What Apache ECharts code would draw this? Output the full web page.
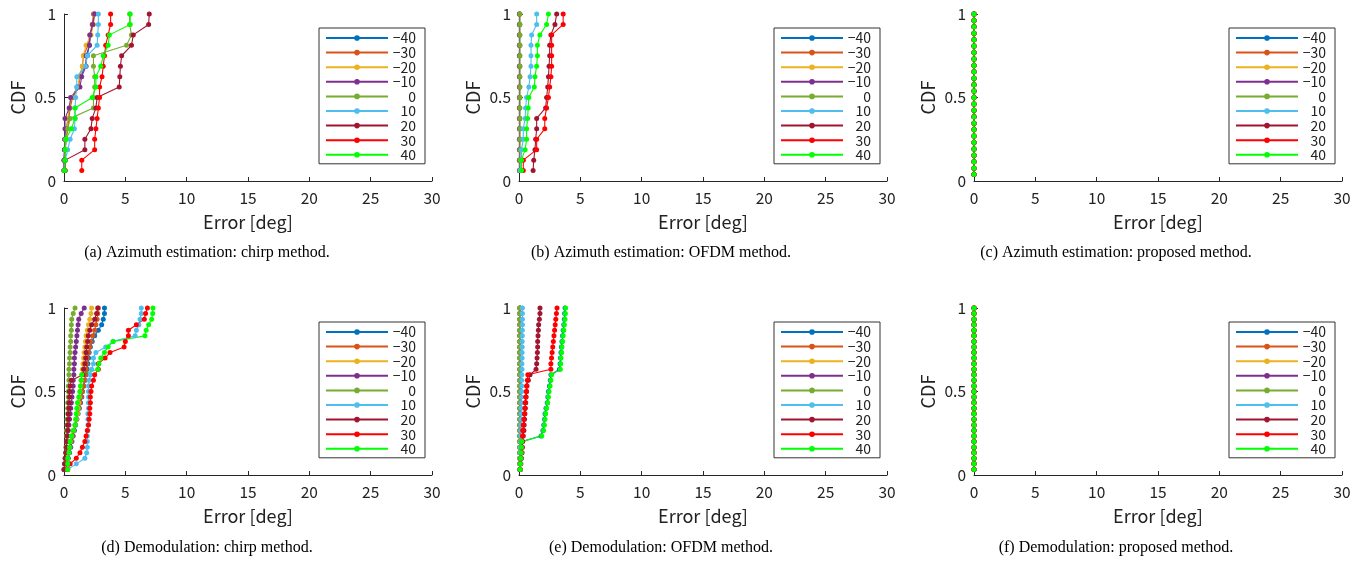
<!DOCTYPE html>
<html>
<head>
<meta charset="utf-8">
<script src="https://cdn.jsdelivr.net/npm/echarts@6/dist/echarts.min.js"></script>
<style>
html,body{margin:0;padding:0;background:#fff;}
#chart{width:1363px;height:563px;}
</style>
</head>
<body>
<div id="chart"></div>
<script>
// ---------------- DATA ----------------
const seriesNames = ['\u221240', '\u221230', '\u221220', '\u221210', '0', '10', '20', '30', '40'];
const seriesColors = ['#0072BD', '#D95319', '#EDB120', '#7E2F8E', '#77AC30', '#4DBEEE', '#A2142F', '#FF0000', '#00FF00'];
const panelCaptions = [
  '(a) Azimuth estimation: chirp method.',
  '(b) Azimuth estimation: OFDM method.',
  '(c) Azimuth estimation: proposed method.',
  '(d) Demodulation: chirp method.',
  '(e) Demodulation: OFDM method.',
  '(f) Demodulation: proposed method.'
];
const xTickValues = [0, 5, 10, 15, 20, 25, 30];
const yTickValues = [0, 0.5, 1];

// CDF levels
const levels16 = [0.0625,0.125,0.1875,0.25,0.3125,0.375,0.4375,0.5,0.5625,0.625,0.6875,0.75,0.8125,0.875,0.9375,1];
const levels26 = [0.0385,0.0769,0.1154,0.1538,0.1923,0.2308,0.2692,0.3077,0.3462,0.3846,0.4231,0.4615,0.5,0.5385,0.5769,0.6154,0.6538,0.6923,0.7308,0.7692,0.8077,0.8462,0.8846,0.9231,0.9615,1];
const levels30 = [0.0333,0.0667,0.1,0.1333,0.1667,0.2,0.2333,0.2667,0.3,0.3333,0.3667,0.4,0.4333,0.4667,0.5,0.5333,0.5667,0.6,0.6333,0.6667,0.7,0.7333,0.7667,0.8,0.8333,0.8667,0.9,0.9333,0.9667,1];

// (a) Azimuth estimation: chirp method [deg]
const azChirpM40 = [0,0,0.05,0.08,0.16,0.35,0.43,0.63,1.09,1.36,1.71,1.9,2.07,2.17,2.34,2.47];
const azChirpM30 = [0,0.05,0.1,0.2,0.3,0.4,0.5,0.7,1.2,1.3,1.5,1.6,1.95,2.1,2.3,2.4];
const azChirpM20 = [0,0.05,0.1,0.15,0.2,0.3,0.45,0.6,1.15,1.25,1.5,1.58,1.8,2.2,2.4,2.5];
const azChirpM10 = [0,0,0.03,0.05,0.08,0.08,0.43,0.54,1.3,1.44,1.8,1.8,2.07,2.12,2.35,2.5];
const azChirpP0  = [0,0.05,0.1,0.1,0.3,0.5,2.4,2.4,2.5,2.5,2.4,2.4,5.1,5.5,5.35,5.35];
const azChirpP10 = [0.05,0.1,0.3,0.5,0.85,0.9,0.9,0.95,1.03,1.05,1.75,1.9,2.7,2.75,2.8,2.8];
const azChirpP20 = [0.1,0.1,1.7,1.7,2.2,2.3,2.6,2.7,4.5,4.55,4.6,4.7,5.5,5.65,6.9,6.95];
const azChirpP30 = [1.45,1.45,2.5,2.5,2.6,2.7,2.8,2.9,2.9,3.1,3.2,3.3,3.4,3.6,3.8,3.8];
const azChirpP40 = [0.05,0.1,0.1,0.15,0.6,0.9,0.9,2.3,2.6,2.6,3.0,3.2,3.6,3.7,5.4,5.4];

// (b) Azimuth estimation: OFDM method [deg]
const azOfdmM40 = [0.03,0.03,0.03,0.03,0.03,0.03,0.03,0.03,0.03,0.03,0.03,0.03,0.03,0.03,0.03,0.03];
const azOfdmM30 = [0.04,0.04,0.04,0.04,0.04,0.04,0.04,0.04,0.04,0.04,0.04,0.04,0.04,0.04,0.04,0.04];
const azOfdmM20 = [0.05,0.05,0.05,0.05,0.05,0.05,0.05,0.05,0.05,0.05,0.05,0.05,0.05,0.05,0.05,0.05];
const azOfdmM10 = [0.05,0.05,0.05,0.05,0.05,0.05,0.05,0.05,0.05,0.05,0.05,0.05,0.05,0.05,0.05,0.05];
const azOfdmP0  = [0.08,0.08,0.08,0.08,0.08,0.08,0.08,0.08,0.08,0.08,0.08,0.08,0.08,0.08,0.08,0.08];
const azOfdmP10 = [0.1,0.2,0.2,0.35,0.35,0.5,0.54,0.62,0.8,0.9,0.98,0.98,0.98,1.03,1.44,1.44];
const azOfdmP20 = [1.15,1.2,1.3,1.36,1.44,1.44,2.17,2.25,2.34,2.4,2.45,2.5,2.5,2.6,2.93,3.07];
const azOfdmP30 = [0.35,0.35,1.44,1.44,2.1,2.1,2.25,2.4,2.5,2.6,2.66,2.66,2.66,2.66,3.6,3.6];
const azOfdmP40 = [0.2,0.2,0.5,0.62,0.62,0.7,0.75,0.8,1.25,1.3,1.44,1.5,1.5,1.7,2.25,2.4];

// (c) Azimuth estimation: proposed method [deg] (all angles)
const azPropErr = [0,0,0,0,0,0,0,0,0,0,0,0,0,0,0,0,0,0,0,0,0,0,0,0,0,0];

// (d) Demodulation: chirp method [deg]
const dmChirpM40 = [0.15,0.25,0.35,0.45,0.55,0.65,0.75,0.85,0.95,1.05,1.15,1.25,1.35,1.45,1.5,1.6,1.7,1.8,1.9,1.95,2.0,2.05,2.15,2.3,2.5,2.8,3.07,3.2,3.3,3.3];
const dmChirpM30 = [0.1,0.2,0.3,0.4,0.5,0.6,0.7,0.8,0.9,1.0,1.1,1.2,1.3,1.4,1.5,1.6,1.7,1.75,1.8,1.85,1.9,2.0,2.1,2.2,2.35,2.5,2.6,2.7,2.75,2.8];
const dmChirpM20 = [0.1,0.15,0.2,0.3,0.4,0.5,0.6,0.75,0.9,1.0,1.1,1.15,1.2,1.25,1.3,1.35,1.4,1.45,1.5,1.55,1.6,1.65,1.7,1.75,1.8,1.9,2.0,2.1,2.2,2.25];
const dmChirpM10 = [0.0,0.05,0.1,0.15,0.2,0.25,0.3,0.35,0.4,0.45,0.5,0.55,0.6,0.65,0.7,0.75,0.75,0.8,0.8,0.85,0.85,0.9,0.95,1.0,1.05,1.1,1.15,1.2,1.4,1.65];
const dmChirpP0  = [0.05,0.1,0.1,0.15,0.15,0.2,0.2,0.2,0.25,0.25,0.3,0.3,0.3,0.35,0.35,0.35,0.4,0.4,0.4,0.45,0.45,0.5,0.5,0.55,0.55,0.6,0.6,0.63,0.75,0.9];
const dmChirpP10 = [0.3,1.0,1.7,1.85,1.9,1.9,1.9,1.95,1.95,1.95,1.95,2.0,2.0,2.0,2.0,2.0,2.05,2.15,2.25,2.4,2.4,2.6,3.4,4.0,5.8,5.9,6.1,6.2,6.3,6.3];
const dmChirpP20 = [0.0,0.05,0.1,0.15,0.2,0.2,0.25,0.3,0.3,0.35,0.35,0.4,0.4,0.45,0.45,0.5,0.6,1.55,1.6,1.7,1.77,1.8,1.85,1.93,1.98,2.1,2.25,2.5,2.66,2.75];
const dmChirpP30 = [0.3,0.5,1.0,1.3,1.5,1.7,1.8,1.9,2.0,2.05,2.1,2.1,2.15,2.15,2.2,2.25,2.4,2.5,2.8,2.8,3.35,3.75,4.9,5.0,5.25,5.25,5.9,6.55,6.65,6.8];
const dmChirpP40 = [0.3,0.3,0.3,0.4,0.45,0.5,0.6,0.75,0.9,0.95,1.0,1.05,1.1,1.2,1.3,1.35,1.4,1.45,2.75,2.85,3.0,3.3,3.6,4.0,6.6,6.7,6.9,7.15,7.23,7.25];

// (e) Demodulation: OFDM method [deg]
const dmOfdmM40 = [0.1,0.12,0.15,0.18,0.2,0.22,1.8,1.95,2.02,2.08,2.12,2.2,2.3,2.35,2.4,2.48,2.55,2.6,3.3,3.35,3.38,3.42,3.45,3.5,3.55,3.6,3.65,3.7,3.72,3.75];
const dmOfdmM30 = [0.1,0.1,0.1,0.1,0.1,0.1,0.1,0.1,0.1,0.1,0.1,0.1,0.1,0.1,0.1,0.1,0.1,0.1,0.1,0.1,0.1,0.1,0.1,0.1,0.1,0.1,0.1,0.1,0.1,0.1];
const dmOfdmM20 = [0.08,0.08,0.08,0.08,0.08,0.08,0.08,0.08,0.08,0.08,0.08,0.08,0.08,0.08,0.08,0.08,0.08,0.08,0.08,0.08,0.08,0.08,0.08,0.08,0.08,0.08,0.08,0.08,0.08,0.08];
const dmOfdmM10 = [0.06,0.06,0.06,0.06,0.06,0.06,0.06,0.06,0.06,0.06,0.06,0.06,0.06,0.06,0.06,0.06,0.06,0.06,0.06,0.06,0.06,0.06,0.06,0.06,0.06,0.06,0.06,0.06,0.06,0.06];
const dmOfdmP0  = [0.05,0.05,0.05,0.05,0.05,0.05,0.05,0.05,0.05,0.05,0.05,0.05,0.05,0.05,0.05,0.05,0.05,0.05,0.05,0.05,0.05,0.05,0.05,0.05,0.05,0.05,0.05,0.05,0.05,0.05];
const dmOfdmP10 = [0.08,0.1,0.1,0.12,0.12,0.14,0.14,0.15,0.16,0.17,0.18,0.18,0.2,0.2,0.21,0.22,0.22,0.23,0.24,0.24,0.25,0.25,0.26,0.26,0.27,0.27,0.28,0.28,0.28,0.28];
const dmOfdmP20 = [0.1,0.15,0.2,0.25,0.28,0.3,0.35,0.4,0.42,0.45,0.48,0.5,0.55,0.58,0.62,0.65,0.76,0.9,1.39,1.44,1.47,1.5,1.52,1.52,1.55,1.58,1.6,1.66,1.71,1.71];
const dmOfdmP30 = [0.1,0.12,0.15,0.2,0.22,0.25,0.28,0.3,0.35,0.4,0.45,0.5,0.5,0.55,0.6,0.62,0.68,0.72,2.6,2.6,2.65,2.7,2.75,2.8,2.85,2.9,2.95,3.0,3.05,3.1];
const dmOfdmP40 = [0.1,0.12,0.15,0.18,0.2,0.22,1.85,2.0,2.07,2.12,2.17,2.25,2.34,2.4,2.45,2.53,2.6,2.66,3.37,3.4,3.42,3.48,3.5,3.55,3.6,3.65,3.7,3.75,3.78,3.8];

// (f) Demodulation: proposed method [deg] (all angles)
const dmPropErr = [0,0,0,0,0,0,0,0,0,0,0,0,0,0,0,0,0,0,0,0,0,0,0,0,0,0,0,0,0,0];

const panelData = [
  {levels: levels16, errs: [azChirpM40, azChirpM30, azChirpM20, azChirpM10, azChirpP0, azChirpP10, azChirpP20, azChirpP30, azChirpP40]},
  {levels: levels16, errs: [azOfdmM40, azOfdmM30, azOfdmM20, azOfdmM10, azOfdmP0, azOfdmP10, azOfdmP20, azOfdmP30, azOfdmP40]},
  {levels: levels26, errs: [azPropErr, azPropErr, azPropErr, azPropErr, azPropErr, azPropErr, azPropErr, azPropErr, azPropErr]},
  {levels: levels30, errs: [dmChirpM40, dmChirpM30, dmChirpM20, dmChirpM10, dmChirpP0, dmChirpP10, dmChirpP20, dmChirpP30, dmChirpP40]},
  {levels: levels30, errs: [dmOfdmM40, dmOfdmM30, dmOfdmM20, dmOfdmM10, dmOfdmP0, dmOfdmP10, dmOfdmP20, dmOfdmP30, dmOfdmP40]},
  {levels: levels30, errs: [dmPropErr, dmPropErr, dmPropErr, dmPropErr, dmPropErr, dmPropErr, dmPropErr, dmPropErr, dmPropErr]}
];

// ---------------- LAYOUT ----------------
const colLeft = [64, 519, 974];
const rowTop = [14, 308];
const plotW = 368, plotH = 167;
const captionX = [207, 661, 1116];
const captionY = [253, 548];
const sans = '"Noto Sans CJK JP", "Noto Sans", sans-serif';
const axisColor = '#262626';

const grids = [], xAxes = [], yAxes = [], series = [], legends = [], graphics = [];
for (let p = 0; p < 6; p++) {
  const row = Math.floor(p / 3), col = p % 3;
  grids.push({left: colLeft[col], top: rowTop[row], width: plotW, height: plotH, containLabel: false});
  xAxes.push({
    type: 'value', gridIndex: p, min: xTickValues[0], max: xTickValues[xTickValues.length - 1], interval: 5,
    name: 'Error [deg]', nameLocation: 'middle', nameGap: 32,
    nameTextStyle: {fontFamily: sans, fontSize: 18, color: '#222'},
    axisLine: {show: true, onZero: false, lineStyle: {color: axisColor, width: 1}},
    axisTick: {show: true, inside: true, length: 4, lineStyle: {color: axisColor}},
    axisLabel: {fontFamily: sans, fontSize: 15.5, color: '#222', margin: 9},
    splitLine: {show: false}
  });
  yAxes.push({
    type: 'value', gridIndex: p, min: yTickValues[0], max: yTickValues[yTickValues.length - 1], interval: 0.5,
    name: 'CDF', nameLocation: 'middle', nameGap: 37,
    nameTextStyle: {fontFamily: sans, fontSize: 18, color: '#222'},
    axisLine: {show: true, onZero: false, lineStyle: {color: axisColor, width: 1}},
    axisTick: {show: true, inside: true, length: 4, lineStyle: {color: axisColor}},
    axisLabel: {fontFamily: sans, fontSize: 15.5, color: '#222', margin: 8},
    splitLine: {show: false}
  });
  const pd = panelData[p];
  for (let s = 0; s < 9; s++) {
    series.push({
      type: 'line', name: seriesNames[s], xAxisIndex: p, yAxisIndex: p,
      data: pd.errs[s].map((e, i) => [e, pd.levels[i]]),
      symbol: 'circle', symbolSize: 5, showSymbol: true, showAllSymbol: true,
      clip: false, silent: true, animation: false,
      itemStyle: {color: seriesColors[s]},
      lineStyle: {color: seriesColors[s], width: 1.1},
      emphasis: {disabled: true}
    });
  }
  legends.push({
    orient: 'vertical', left: colLeft[col] + 255, top: rowTop[row] + 14,
    data: seriesNames, itemWidth: 62, itemHeight: 7, itemGap: 0.6,
    padding: [3, 9, 2, 6], borderColor: '#333', borderWidth: 1, backgroundColor: '#fff',
    selectedMode: false,
    formatter: name => '{t|' + name + '}',
    textStyle: {fontFamily: sans, fontSize: 14, color: '#222',
      rich: {t: {width: 23, align: 'right', fontFamily: sans, fontSize: 14, lineHeight: 13.5, color: '#222'}}}
  });
  graphics.push({
    type: 'text', x: captionX[col], y: captionY[row],
    style: {text: panelCaptions[p], font: '16px "Liberation Serif", "Times New Roman", serif', fill: '#000',
      align: 'center', verticalAlign: 'middle', textAlign: 'center', textVerticalAlign: 'middle'}
  });
}

const chart = echarts.init(document.getElementById('chart'), null, {renderer: 'canvas'});
chart.setOption({
  backgroundColor: '#fff',
  animation: false,
  grid: grids, xAxis: xAxes, yAxis: yAxes, series: series, legend: legends, graphic: graphics
});
</script>
</body>
</html>
